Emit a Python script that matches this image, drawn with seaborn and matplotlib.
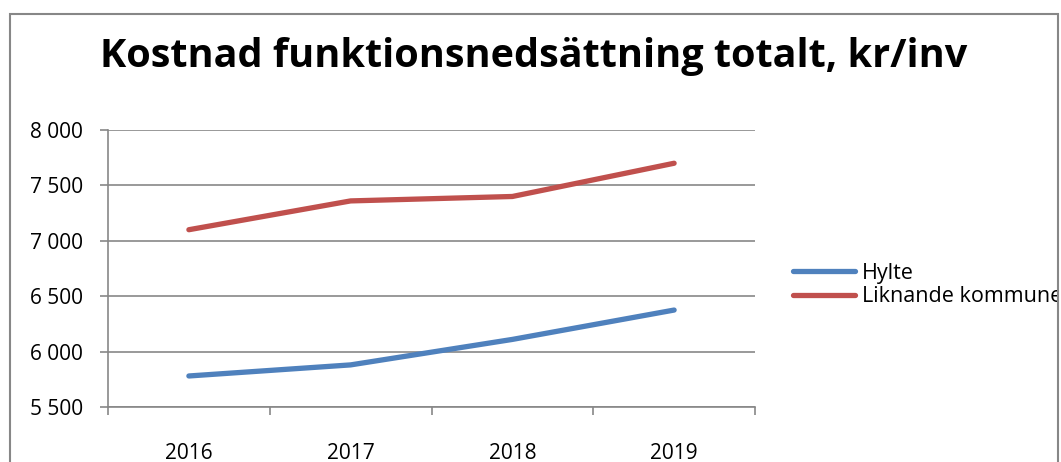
import matplotlib
matplotlib.use("Agg")
import matplotlib.pyplot as plt
import seaborn as sns
import pandas as pd
from matplotlib.patches import Rectangle
from matplotlib.ticker import FuncFormatter, FixedLocator

years = ["2016", "2017", "2018", "2019"]
hylte = [5780, 5880, 6110, 6375]
liknande = [7100, 7360, 7400, 7700]
series_names = ["Hylte", "Liknande kommuner"]
colors = ["#4F81BD", "#C0504D"]
title = "Kostnad funktionsnedsättning totalt, kr/inv"

df = pd.DataFrame({
    "x": list(range(len(years))) * 2,
    "value": hylte + liknande,
    "series": [series_names[0]] * len(years) + [series_names[1]] * len(years),
})

sns.set_style("white")
plt.rcParams["font.family"] = ["Open Sans", "DejaVu Sans"]
plt.rcParams["text.color"] = "black"
plt.rcParams["xtick.labelcolor"] = "black"
plt.rcParams["ytick.labelcolor"] = "black"

W, H = 1061, 462
fig = plt.figure(figsize=(W / 100, H / 100), dpi=100)
ax = fig.add_axes([108 / W, (H - 407) / H, (755 - 108) / W, (407 - 130) / H])

sns.lineplot(data=df, x="x", y="value", hue="series", palette=colors,
             linewidth=3.8, ax=ax, legend=False, solid_capstyle="round")

grid_c = "#878787"
ax.set_xlim(-0.5, 3.5)
ax.set_ylim(5500, 8000)
ax.set_yticks([5500, 6000, 6500, 7000, 7500, 8000])
ax.yaxis.set_major_formatter(FuncFormatter(lambda v, p: f"{int(v):,}".replace(",", " ")))
ax.grid(axis="y", color=grid_c, linewidth=1.2)
ax.set_axisbelow(True)
ax.xaxis.set_major_locator(FixedLocator([-0.5, 0.5, 1.5, 2.5, 3.5]))
ax.xaxis.set_minor_locator(FixedLocator([0, 1, 2, 3]))
ax.xaxis.set_major_formatter(FuncFormatter(lambda v, p: ""))
ax.set_xticklabels(years, minor=True)
ax.tick_params(axis="x", which="major", direction="out", length=6, width=1.2, color=grid_c, bottom=True)
ax.tick_params(axis="x", which="minor", length=0, labelsize=15, pad=26, labelcolor="black")
ax.tick_params(axis="y", direction="out", length=6, width=1.2, color=grid_c, left=True,
               labelsize=15, pad=12, labelcolor="black")
for s in ["top", "right"]:
    ax.spines[s].set_visible(False)
ax.spines["left"].set_color(grid_c)
ax.spines["bottom"].set_color(grid_c)
ax.spines["left"].set_linewidth(1.2)
ax.spines["bottom"].set_linewidth(1.2)
ax.set_xlabel("")
ax.set_ylabel("")

fig.text(534 / W, 1 - 57 / H, title, ha="center", va="center",
         fontsize=28.5, fontweight="bold", color="black")

frame = Rectangle((10 / W, -0.02), (1058 - 10) / W, (H - 14) / H + 0.02,
                  transform=fig.transFigure, fill=False, edgecolor=grid_c, linewidth=1.5)
fig.patches.append(frame)

handles = [plt.Line2D([], [], color=c, linewidth=3.8, solid_capstyle="round") for c in colors]
leg = fig.legend(handles, series_names, loc="center left",
                 bbox_to_anchor=(784 / W, 1 - 285 / H), frameon=False,
                 fontsize=15.5, handlelength=2.9, handletextpad=0.3, labelspacing=0.1,
                 borderaxespad=0)
clip = Rectangle((0, 0), 1057 / W, 1, transform=fig.transFigure, visible=False)
fig.patches.append(clip)
for t in leg.get_texts():
    t.set_color("black")
    t.set_clip_path(clip)

fig.savefig("out.png", dpi=100)
